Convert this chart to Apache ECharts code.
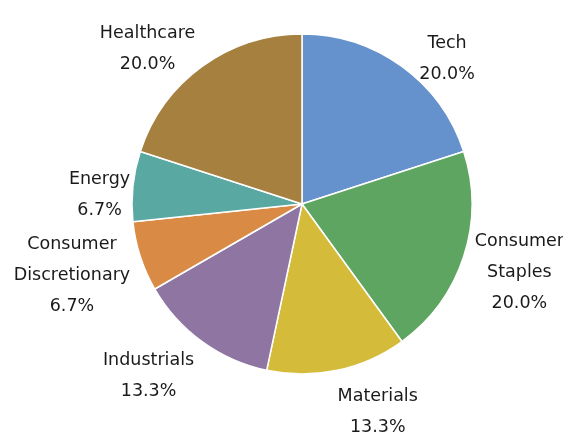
<!DOCTYPE html>
<html><head><meta charset="utf-8">
<script src="https://cdn.jsdelivr.net/npm/echarts@6/dist/echarts.min.js"></script>
<style>html,body{margin:0;padding:0;background:#fff}#c{width:563px;height:439px}</style>
</head><body><div id="c"></div>
<script>
const categories = ['Tech','Consumer Staples','Materials','Industrials','Consumer Discretionary','Energy','Healthcare'];
const labelNames = ['Tech','Consumer\nStaples','Materials','Industrials','Consumer\nDiscretionary','Energy','Healthcare'];
const values = [3,3,2,2,1,1,3];
const colors = ['#6591CC','#5EA562','#D4BC3A','#8F76A2','#D98B45','#59A8A1','#A6803F'];

const CX = 302, CY = 204, R = 170, GAP = 0, DROP = 9, SPREAD = 9 * Math.PI / 180;
const total = values.reduce((a,b)=>a+b,0);
const mids = [];
let acc = 0;
values.forEach(v => { mids.push((acc + v/2)/total * 2*Math.PI); acc += v; });

const chart = echarts.init(document.getElementById('c'));
chart.setOption({
  animation:false,
  series:[{
    type:'pie',
    center:[CX,CY],
    radius:R,
    startAngle:90,
    clockwise:true,
    itemStyle:{borderColor:'#fff',borderWidth:1.5},
    label:{
      show:true,
      position:'outside',
      overflow:'none',
      fontFamily:'DejaVu Sans',
      fontSize:17.5,
      color:'#1a1a1a',
      lineHeight:31,
      align:'center',
      formatter: p => labelNames[p.dataIndex] + '\n' + (p.value/total*100).toFixed(1) + '%'
    },
    labelLine:{show:false},
    labelLayout: function(p){
      let a = mids[p.dataIndex];
      // push labels slightly away from the vertical axis
      a += SPREAD * Math.cos(a) * Math.sign(Math.sin(a));
      const ux = Math.sin(a), uy = -Math.cos(a);
      const w = p.labelRect.width, h = p.labelRect.height;
      const d = R + GAP + Math.abs(ux)*w/2 + Math.abs(uy)*h/2;
      return {x: CX + d*ux, y: CY + d*uy + DROP, align:'center', verticalAlign:'middle'};
    },
    data: categories.map((c,i)=>({name:c, value:values[i], itemStyle:{color:colors[i]}}))
  }]
});
</script></body></html>
